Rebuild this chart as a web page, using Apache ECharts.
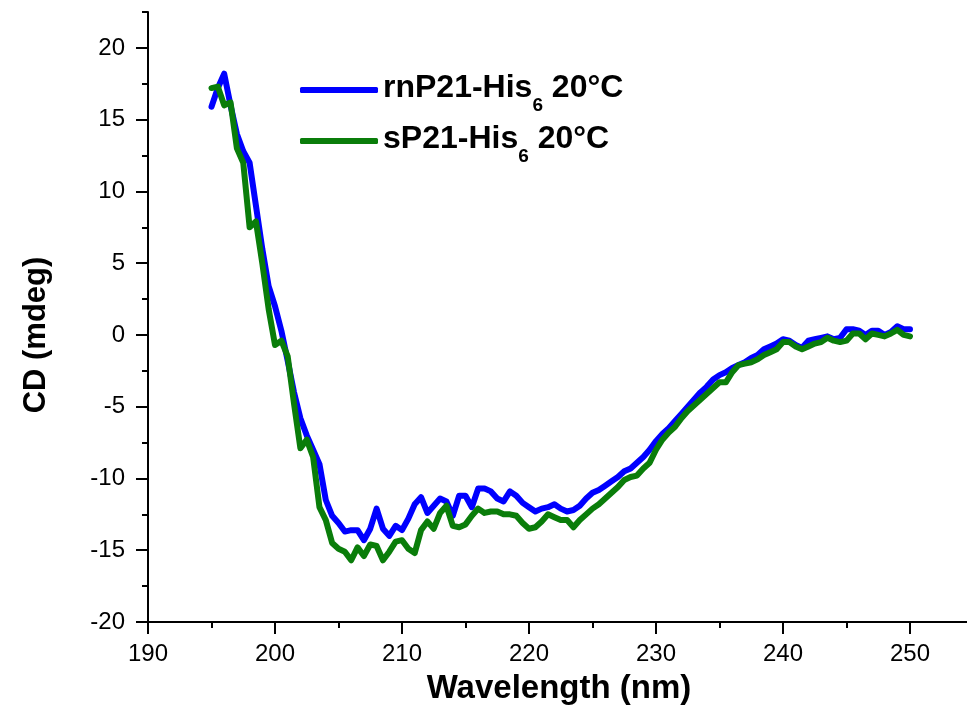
<!DOCTYPE html>
<html>
<head>
<meta charset="utf-8">
<script src="https://cdn.jsdelivr.net/npm/echarts@6/dist/echarts.min.js"></script>
<style>
html,body{margin:0;padding:0;background:#fff;}
#chart{width:967px;height:724px;}
</style>
</head>
<body>
<div id="chart"></div>
<script>
// Wavelength (nm), 0.5 nm steps
const wavelength = [
  195,195.5,196,196.5,197,197.5,198,198.5,199,199.5,
  200,200.5,201,201.5,202,202.5,203,203.5,204,204.5,
  205,205.5,206,206.5,207,207.5,208,208.5,209,209.5,
  210,210.5,211,211.5,212,212.5,213,213.5,214,214.5,
  215,215.5,216,216.5,217,217.5,218,218.5,219,219.5,
  220,220.5,221,221.5,222,222.5,223,223.5,224,224.5,
  225,225.5,226,226.5,227,227.5,228,228.5,229,229.5,
  230,230.5,231,231.5,232,232.5,233,233.5,234,234.5,
  235,235.5,236,236.5,237,237.5,238,238.5,239,239.5,
  240,240.5,241,241.5,242,242.5,243,243.5,244,244.5,
  245,245.5,246,246.5,247,247.5,248,248.5,249,249.5,
  250
];
// CD (mdeg) rnP21-His6 20°C
const rnP21 = [
  15.9,17.2,18.2,16.0,14.0,12.8,12.0,9.0,6.0,3.4,
  2.0,0.3,-1.8,-4.0,-5.8,-7.0,-8.0,-9.0,-11.5,-12.6,
  -13.1,-13.7,-13.6,-13.6,-14.3,-13.5,-12.1,-13.5,-14.0,-13.3,
  -13.6,-12.8,-11.8,-11.3,-12.4,-11.9,-11.4,-11.6,-12.6,-11.2,
  -11.2,-12.0,-10.7,-10.7,-10.9,-11.4,-11.6,-10.9,-11.2,-11.7,
  -12.0,-12.3,-12.1,-12.0,-11.8,-12.1,-12.3,-12.2,-11.9,-11.4,
  -11.0,-10.8,-10.5,-10.2,-9.9,-9.5,-9.3,-8.9,-8.5,-8.0,
  -7.4,-6.9,-6.5,-6.0,-5.5,-5.0,-4.5,-4.0,-3.6,-3.1,
  -2.8,-2.6,-2.3,-2.1,-1.9,-1.6,-1.4,-1.0,-0.8,-0.6,
  -0.3,-0.4,-0.7,-0.9,-0.4,-0.3,-0.2,-0.1,-0.3,-0.2,
  0.4,0.4,0.3,0.0,0.3,0.3,0.0,0.2,0.6,0.4,
  0.4
];
// CD (mdeg) sP21-His6 20°C
const sP21 = [
  17.2,17.3,16.0,16.2,13.0,12.0,7.5,7.9,5.0,1.8,
  -0.7,-0.4,-1.5,-4.8,-7.9,-7.3,-8.5,-12.0,-12.9,-14.5,
  -14.9,-15.1,-15.7,-14.8,-15.4,-14.6,-14.7,-15.7,-15.1,-14.4,
  -14.3,-14.9,-15.2,-13.6,-13.0,-13.5,-12.4,-11.9,-13.3,-13.4,
  -13.2,-12.6,-12.1,-12.4,-12.3,-12.3,-12.5,-12.5,-12.6,-13.1,
  -13.5,-13.4,-13.0,-12.5,-12.7,-12.9,-12.9,-13.4,-12.9,-12.5,
  -12.1,-11.8,-11.4,-11.0,-10.6,-10.1,-9.9,-9.8,-9.3,-8.9,
  -8.0,-7.3,-6.8,-6.4,-5.8,-5.3,-4.9,-4.5,-4.1,-3.7,
  -3.3,-3.3,-2.6,-2.1,-2.0,-1.9,-1.7,-1.4,-1.2,-1.0,
  -0.5,-0.5,-0.8,-1.0,-0.8,-0.6,-0.5,-0.2,-0.4,-0.5,
  -0.4,0.1,0.1,-0.3,0.1,0.0,-0.1,0.1,0.35,0.0,
  -0.1
];
const yMajorTicks = [-20,-15,-10,-5,0,5,10,15,20];
const yMinorTicks = [-17.5,-12.5,-7.5,-2.5,2.5,7.5,12.5,17.5,22.5];
const seriesNames = ['rnP21-His6 20°C','sP21-His6 20°C'];
const seriesColors = ['#0000ff','#0a7d0a'];

const FONT = '"Liberation Sans", Arial, sans-serif';
const chart = echarts.init(document.getElementById('chart'), null, {renderer:'canvas'});

function pairs(vals){ return wavelength.map((w,i)=>[w, vals[i]]); }

const option = {
  backgroundColor:'#fff',
  animation:false,
  grid:{left:148, right:57, top:12, bottom:102, containLabel:false},
  legend:{
    orient:'vertical', left:295, top:67, itemGap:8,
    itemWidth:78, itemHeight:6, icon:'roundRect',
    data:seriesNames,
    formatter:function(name){
      const m = name.match(/^(.*His)6( .*)$/);
      return '{a|'+m[1]+'}{s|6}{a|'+m[2]+'}';
    },
    textStyle:{
      color:'#000',
      rich:{
        a:{fontFamily:FONT, fontWeight:'bold', fontSize:32, lineHeight:36, verticalAlign:'top', color:'#000'},
        s:{fontFamily:FONT, fontWeight:'bold', fontSize:19, lineHeight:18, verticalAlign:'top', padding:[24,0,0,0], color:'#000'}
      }
    }
  },
  xAxis:{
    type:'value', min:190, max:250, interval:10, position:'bottom', z:10,
    splitLine:{show:false},
    axisLine:{show:true, onZero:false, lineStyle:{color:'#000', width:2}},
    axisTick:{show:true, inside:false, length:12, lineStyle:{color:'#000', width:2}},
    minorTick:{show:true, splitNumber:2, length:6, lineStyle:{color:'#000', width:2}},
    axisLabel:{show:true, margin:20, fontFamily:FONT, fontSize:24, color:'#000'}
  },
  yAxis:[
    {
      type:'value', min:-20, max:22.5, interval:5, position:'left',
      splitLine:{show:false},
      axisLine:{show:true, onZero:false, lineStyle:{color:'#000', width:2}},
      axisTick:{show:true, inside:false, length:12, lineStyle:{color:'#000', width:2}, customValues:yMajorTicks},
      axisLabel:{show:true, margin:23, fontFamily:FONT, fontSize:24, color:'#000', customValues:yMajorTicks}
    },
    {
      type:'value', min:-20, max:22.5, interval:5, position:'left',
      splitLine:{show:false},
      axisLine:{show:false, onZero:false},
      axisTick:{show:true, inside:false, length:6, lineStyle:{color:'#000', width:2}, customValues:yMinorTicks},
      axisLabel:{show:false}
    }
  ],
  graphic:[
    {
      type:'text', x:36, y:335, rotation:Math.PI/2,
      style:{text:'CD (mdeg)', font:'bold 31px '+FONT, fill:'#000', align:'center', verticalAlign:'middle'}
    },
    {
      type:'text', x:559, y:689,
      style:{text:'Wavelength (nm)', font:'bold 33px '+FONT, fill:'#000', align:'center', verticalAlign:'middle'}
    },
    {
      // continuation of the bottom axis line to the right edge
      type:'line', shape:{x1:909, y1:622, x2:967, y2:622},
      style:{stroke:'#000', lineWidth:2}
    }
  ],
  series:[
    {name:seriesNames[0], type:'line', data:pairs(rnP21), showSymbol:false, symbol:'none',
     color:seriesColors[0],
     lineStyle:{width:6, color:seriesColors[0], cap:'round', join:'round'}},
    {name:seriesNames[1], type:'line', data:pairs(sP21), showSymbol:false, symbol:'none',
     color:seriesColors[1],
     lineStyle:{width:6, color:seriesColors[1], cap:'round', join:'round'}}
  ]
};
chart.setOption(option);
</script>
</body>
</html>
